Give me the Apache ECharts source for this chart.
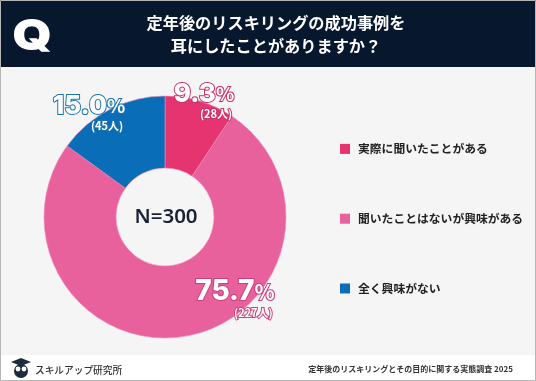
<!DOCTYPE html>
<html>
<head>
<meta charset="utf-8">
<script src="https://cdn.jsdelivr.net/npm/echarts@6/dist/echarts.min.js"></script>
<style>
  html, body { margin: 0; padding: 0; background: #fff; }
  #chart { width: 536px; height: 381px; }
</style>
</head>
<body>
<div id="chart"></div>
<script>
const categories = ['実際に聞いたことがある', '聞いたことはないが興味がある', '全く興味がない'];
const counts = [28, 227, 45];
const percents = ['9.3', '75.7', '15.0'];
const colors = ['#e5346f', '#e8609c', '#0a6db8'];
const outlines = ['#c8316a', '#c8407f', '#1a74b0'];
const titleLines = ['定年後のリスキリングの成功事例を', '耳にしたことがありますか？'];
const sourceText = '定年後のリスキリングとその目的に関する実態調査 2025';
const brandText = 'スキルアップ研究所';
const centerText = 'N=300';

const font = '"Noto Sans CJK JP", sans-serif';
const chart = echarts.init(document.getElementById('chart'), null, { renderer: 'canvas' });

// label spots, the picture puts them by hand rather than on the slice midpoints
const labelSpots = [[204, 100], [235, 298], [89, 112]];

function richFor(i, big) {
  const c = outlines[i];
  const base = { color: '#fff', fontFamily: font, fontWeight: 'bold', textBorderColor: c, textBorderWidth: 2 };
  return {
    num: { ...base, fontFamily: '"Inter", sans-serif', fontWeight: 800, fontSize: big, lineHeight: big + 1 },
    pct: { ...base, fontSize: big - 7, lineHeight: big + 1 },
    n: { ...base, fontSize: 11, lineHeight: 12, align: 'right', padding: [0, 2, 0, 0] },
  };
}

chart.setOption({
  animation: false,
  backgroundColor: '#f5f5f5',
  legend: {
    orient: 'vertical',
    left: 335,
    top: 138,
    itemWidth: 10,
    itemHeight: 10,
    itemGap: 58,
    icon: 'rect',
    itemStyle: { borderWidth: 0 },
    data: categories,
    textStyle: { fontFamily: font, fontWeight: 'bold', fontSize: 11.8, color: '#222', padding: [0, 0, 0, 3] },
  },
  graphic: [
    { type: 'rect', z: 0, shape: { x: 0, y: 0, width: 536, height: 67 }, style: { fill: '#07182e' } },
    { type: 'rect', z: 0, shape: { x: 0, y: 355, width: 536, height: 26 }, style: { fill: '#fff' } },
    { type: 'rect', z: 10, shape: { x: 0.5, y: 0.5, width: 535, height: 380 }, style: { fill: 'none', stroke: '#b5b5b5', lineWidth: 1 } },
    { type: 'text', z: 5, x: 32, y: 37, scaleX: 1.2, style: { text: 'Q', fill: '#fff', align: 'center', verticalAlign: 'middle', font: '900 42px "Inter", sans-serif' } },
    { type: 'text', z: 5, x: 276, y: 23, style: { text: titleLines[0], fill: '#fff', align: 'center', verticalAlign: 'middle', font: 'bold 16.2px ' + font } },
    { type: 'text', z: 5, x: 276, y: 46, style: { text: titleLines[1], fill: '#fff', align: 'center', verticalAlign: 'middle', font: 'bold 16.2px ' + font } },
    { type: 'text', z: 5, x: 166, y: 217, style: { text: centerText, fill: '#1a2233', align: 'center', verticalAlign: 'middle', font: '600 20.5px "Noto Sans", sans-serif' } },
    { type: 'text', z: 5, x: 35, y: 370, style: { text: brandText, fill: '#333', verticalAlign: 'middle', font: '500 9.7px ' + font } },
    { type: 'text', z: 5, x: 513, y: 369, style: { text: sourceText, fill: '#333', align: 'right', verticalAlign: 'middle', font: 'bold 8px ' + font } },
    // little owl logo
    { type: 'polygon', z: 5, shape: { points: [[21, 358], [31, 362], [21, 366], [11, 362]] }, style: { fill: '#1c2c3c' } },
    { type: 'circle', z: 5, shape: { cx: 21, cy: 371, r: 7 }, style: { fill: '#1c2c3c' } },
    { type: 'circle', z: 6, shape: { cx: 18, cy: 369, r: 2.4 }, style: { fill: '#fff' } },
    { type: 'circle', z: 6, shape: { cx: 24, cy: 369, r: 2.4 }, style: { fill: '#fff' } },
  ],
  series: [{
    type: 'pie',
    center: [165, 217],
    radius: [49, 121],
    startAngle: 90,
    clockwise: true,
    silent: true,
    itemStyle: { borderColor: '#f08cb8', borderWidth: 0.6 },
    label: { show: true, position: 'inside', formatter: '' },
    labelLine: { show: false },
    labelLayout: params => {
      const s = labelSpots[params.dataIndex];
      return { x: s[0], y: s[1], align: 'center', verticalAlign: 'middle' };
    },
    data: categories.map((name, i) => ({
      name,
      value: counts[i],
      itemStyle: { color: colors[i] },
      label: {
        formatter: `{num|${percents[i]}}{pct|%}\n{n|(${counts[i]}人)}`,
        rich: richFor(i, i === 1 ? 28 : 26),
        align: 'right',
      },
    })),
  }],
});
</script>
</body>
</html>
